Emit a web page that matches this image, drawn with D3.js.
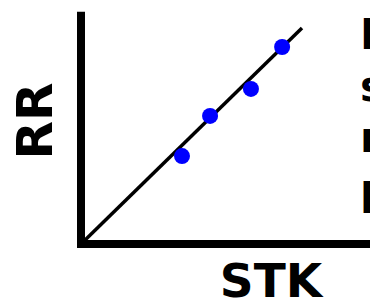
<!DOCTYPE html>
<html>
<head>
<meta charset="utf-8">
<script src="https://cdn.jsdelivr.net/npm/d3@7"></script>
<style>
  body { margin: 0; background: #fff; overflow: hidden; }
  text { font-family: "DejaVu Sans", sans-serif; font-weight: bold; }
</style>
</head>
<body>
<div id="chart"></div>
<script>
/** data */
let stkValues = [4.57, 5.84, 7.69, 9.10];
let rrValues = [4.07, 5.93, 7.18, 9.12];
let fitLine = [[0, 0], [10, 10]];
let notes = ['Best fit', 'slope', 'r', 'p'];

let width = 370;
let height = 301;

let svg = d3.select('#chart')
  .append('svg')
  .attr('width', width)
  .attr('height', height);

/** scales: origin sits where the two thick axes meet */
let x = d3.scaleLinear().domain([0, 10]).range([81, 302]);
let y = d3.scaleLinear().domain([0, 10]).range([244, 28]);

// axes drawn as plain thick lines, no ticks
svg.append('line')
  .attr('x1', x(0)).attr('x2', x(0))
  .attr('y1', y(0) + 4).attr('y2', y(10.75))
  .attr('stroke', '#000').attr('stroke-width', 8);

svg.append('line')
  .attr('x1', x(0) - 4).attr('x2', x(13.6))
  .attr('y1', y(0)).attr('y2', y(0))
  .attr('stroke', '#000').attr('stroke-width', 8);

// fit line
svg.append('path')
  .datum(fitLine)
  .attr('d', d3.line().x(d => x(d[0])).y(d => y(d[1])))
  .attr('stroke', '#000')
  .attr('stroke-width', 3.5)
  .attr('fill', 'none');

// points
svg.selectAll('.dot')
  .data(stkValues)
  .enter()
  .append('circle')
  .attr('class', 'dot')
  .attr('cx', d => x(d))
  .attr('cy', (d, i) => y(rrValues[i]))
  .attr('r', 8)
  .attr('fill', '#0000ff');

// axis titles
svg.append('text')
  .attr('x', 271)
  .attr('y', 297)
  .attr('text-anchor', 'middle')
  .style('font-size', '47px')
  .text('STK');

svg.append('text')
  .attr('transform', 'translate(52,121) rotate(-90)')
  .attr('text-anchor', 'middle')
  .style('font-size', '50px')
  .text('RR');

// notes on the right, cut off by the frame
svg.selectAll('.note')
  .data(notes)
  .enter()
  .append('text')
  .attr('class', 'note')
  .attr('x', 360)
  .attr('y', (d, i) => 49 + i * 51.5)
  .style('font-size', '42px')
  .text(d => d);
</script>
</body>
</html>
